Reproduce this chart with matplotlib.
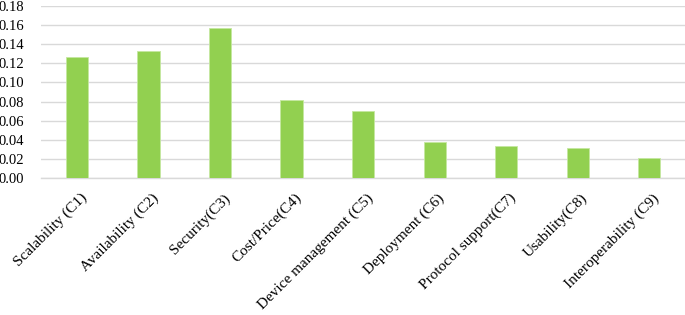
import numpy as np
import matplotlib.pyplot as plt
import matplotlib.transforms as mtransforms

criteria = ['Scalability (C1)', 'Availability (C2)', 'Security(C3)', 'Cost/Price(C4)',
            'Device management (C5)', 'Deployment (C6)', 'Protocol support(C7)',
            'Usability(C8)', 'Interoperability (C9)']
weights = [0.127, 0.133, 0.157, 0.082, 0.070, 0.038, 0.0335, 0.031, 0.0205]
yticks = np.arange(0, 0.19, 0.02)

plt.rcParams['font.family'] = 'Liberation Serif'

fig = plt.figure(figsize=(6.85, 3.15), dpi=100)
ax = fig.add_axes([0.06, 0.435, 0.94, 0.546])

x = np.arange(len(criteria))
ax.bar(x, weights, width=0.31, color='#92d050', edgecolor='#c5e8a0', linewidth=0.6, zorder=3)

ax.set_xlim(-0.5, len(criteria) - 0.5)
ax.set_ylim(0, 0.18)
ax.set_yticks(yticks)
ax.set_yticklabels([f'{v:.2f}' for v in yticks], fontsize=10.5)
ax.yaxis.grid(True, color='#d9d9d9', linewidth=1.0, zorder=0)
ax.set_axisbelow(True)

ax.set_xticks(x)
ax.set_xticklabels(criteria, rotation=45, ha='right', va='top', rotation_mode='anchor', fontsize=11)
ax.tick_params(axis='x', length=0, pad=9.5)
ax.tick_params(axis='y', length=0, pad=12)

# nudge the rotated labels a little to the right, like the original
shift = mtransforms.ScaledTranslation(3 / 100, 0, fig.dpi_scale_trans)
for lab in ax.get_xticklabels():
    lab.set_transform(lab.get_transform() + shift)

for s in ['top', 'right', 'left']:
    ax.spines[s].set_visible(False)
ax.spines['bottom'].set_color('#d9d9d9')
ax.spines['bottom'].set_linewidth(1.0)

fig.savefig('out.png', dpi=100)
